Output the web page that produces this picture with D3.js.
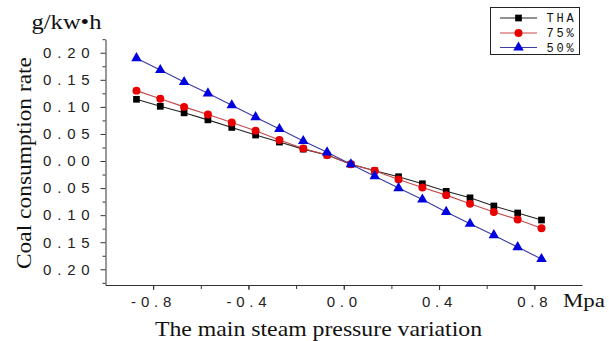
<!DOCTYPE html>
<html>
<head>
<meta charset="utf-8">
<script src="https://cdn.jsdelivr.net/npm/d3@7"></script>
<style>
  body { margin: 0; background: #fff; }
  svg { display: block; }
</style>
</head>
<body>
<div id="chart"></div>
<script>
// data
const pressure = [-0.87, -0.77, -0.67, -0.57, -0.47, -0.37, -0.27, -0.17, -0.07,
  0.03, 0.13, 0.23, 0.33, 0.43, 0.53, 0.63, 0.73, 0.83];
const tha = [0.114, 0.101, 0.089, 0.076, 0.062, 0.048, 0.035, 0.022, 0.011,
  -0.006, -0.018, -0.029, -0.042, -0.056, -0.068, -0.083, -0.096, -0.109];
const load75 = [0.130, 0.115, 0.100, 0.086, 0.071, 0.056, 0.039, 0.023, 0.011,
  -0.006, -0.018, -0.034, -0.049, -0.063, -0.079, -0.094, -0.108, -0.124];
const load50 = [0.190, 0.168, 0.146, 0.125, 0.103, 0.081, 0.059, 0.037, 0.016,
  -0.006, -0.028, -0.050, -0.071, -0.094, -0.116, -0.137, -0.159, -0.181];
const seriesNames = ["THA", "75%", "50%"];

const xTicks = [-0.8, -0.4, 0.0, 0.4, 0.8];
const xTickLabels = ["-0.8", "-0.4", "0.0", "0.4", "0.8"];
const xMinorTicks = [-0.8, -0.6, -0.4, -0.2, 0.0, 0.2, 0.4, 0.6, 0.8];
const yTicks = [0.20, 0.15, 0.10, 0.05, 0.00, -0.05, -0.10, -0.15, -0.20];
const yTickLabels = ["0.20", "0.15", "0.10", "0.05", "0.00", "0.05", "0.10", "0.15", "0.20"];
const yMinorTicks = [0.225, 0.175, 0.125, 0.075, 0.025, -0.025, -0.075, -0.125, -0.175, -0.225];

let width = 609,
  height = 341;

let xScale = d3.scaleLinear().domain([-1, 1]).range([105.5, 582]);
let yScale = d3.scaleLinear().domain([-0.229, 0.225]).range([285, 39.2]);

let svg = d3.select("#chart")
  .append("svg")
  .attr("width", width)
  .attr("height", height);

// minor ticks
svg.append("g")
  .attr("class", "y-minor")
  .attr("transform", "translate(" + xScale(-1) + ",0)")
  .call(d3.axisLeft(yScale).tickValues(yMinorTicks).tickSize(3).tickFormat(""))
  .call(g => g.select(".domain").remove());

svg.append("g")
  .attr("class", "x-minor")
  .attr("transform", "translate(0," + yScale(-0.229) + ")")
  .call(d3.axisBottom(xScale).tickValues(xMinorTicks).tickSize(4).tickFormat(""))
  .call(g => g.select(".domain").remove());

// y axis
svg.append("g")
  .attr("class", "y-axis")
  .attr("transform", "translate(" + xScale(-1) + ",0)")
  .call(d3.axisLeft(yScale)
    .tickValues(yTicks)
    .tickSizeInner(5)
    .tickSizeOuter(0)
    .tickPadding(5)
    .tickFormat((d, i) => yTickLabels[i]));

// x axis
svg.append("g")
  .attr("class", "x-axis")
  .attr("transform", "translate(0," + yScale(-0.229) + ")")
  .call(d3.axisBottom(xScale)
    .tickValues(xTicks)
    .tickSizeInner(5)
    .tickSizeOuter(0)
    .tickPadding(6)
    .tickFormat((d, i) => xTickLabels[i]));

svg.selectAll(".y-axis path, .x-axis path, .y-axis line, .x-axis line, .y-minor line, .x-minor line")
  .attr("stroke", "#333");

svg.selectAll(".y-axis text")
  .style("font-family", "'Liberation Sans', Arial, sans-serif")
  .style("font-size", "15px")
  .style("letter-spacing", "5.8px")
  .attr("fill", "#222");

svg.selectAll(".x-axis text")
  .style("font-family", "'Liberation Sans', Arial, sans-serif")
  .style("font-size", "15px")
  .style("letter-spacing", "4.8px")
  .attr("fill", "#222");

// series
let series = [
  { name: seriesNames[0], values: tha, line: "#222", fill: "#000", symbol: d3.symbolSquare, size: 45 },
  { name: seriesNames[1], values: load75, line: "#c84848", fill: "#e80000", symbol: d3.symbolCircle, size: 50 },
  { name: seriesNames[2], values: load50, line: "#3a3aa8", fill: "#0000e0", symbol: d3.symbolTriangle, size: 48 }
];

let line = d3.line()
  .x((d, i) => xScale(pressure[i]))
  .y(d => yScale(d));

series.forEach(s => {
  svg.append("path")
    .datum(s.values)
    .attr("d", line)
    .attr("fill", "none")
    .attr("stroke", s.line)
    .attr("stroke-width", 1.1);

  svg.append("g")
    .selectAll("path")
    .data(s.values)
    .enter()
    .append("path")
    .attr("transform", (d, i) => "translate(" + xScale(pressure[i]) + "," + yScale(d) + ")")
    .attr("d", d3.symbol(s.symbol, s.size))
    .attr("fill", s.fill);
});

// units and titles
svg.append("text")
  .text("g/kw\u2022h")
  .attr("x", 31.5)
  .attr("y", 28.5)
  .attr("textLength", 70)
  .attr("lengthAdjust", "spacingAndGlyphs")
  .style("font-family", "'Liberation Serif', 'Times New Roman', serif")
  .style("font-size", "20px")
  .attr("fill", "#111");

svg.append("text")
  .text("Coal consumption rate")
  .attr("transform", "translate(31,163) rotate(-90)")
  .attr("text-anchor", "middle")
  .attr("textLength", 212)
  .attr("lengthAdjust", "spacingAndGlyphs")
  .style("font-family", "'Liberation Serif', 'Times New Roman', serif")
  .style("font-size", "21px")
  .attr("fill", "#111");

svg.append("text")
  .text("Mpa")
  .attr("x", 563)
  .attr("y", 306.5)
  .attr("textLength", 42)
  .attr("lengthAdjust", "spacingAndGlyphs")
  .style("font-family", "'Liberation Serif', 'Times New Roman', serif")
  .style("font-size", "18px")
  .attr("fill", "#111");

svg.append("text")
  .text("The main steam pressure variation")
  .attr("x", 155)
  .attr("y", 336)
  .attr("textLength", 327)
  .attr("lengthAdjust", "spacingAndGlyphs")
  .style("font-family", "'Liberation Serif', 'Times New Roman', serif")
  .style("font-size", "21px")
  .attr("fill", "#111");

// legend
let legend = svg.append("g").attr("class", "legend");

legend.append("rect")
  .attr("x", 490.5)
  .attr("y", 7.5)
  .attr("width", 89)
  .attr("height", 47)
  .attr("fill", "#fff")
  .attr("stroke", "#222");

let legendRows = [18, 33, 47.5];

series.forEach((s, i) => {
  legend.append("line")
    .attr("x1", 500)
    .attr("x2", 537)
    .attr("y1", legendRows[i])
    .attr("y2", legendRows[i])
    .attr("stroke", s.line)
    .attr("stroke-width", 1.1);

  legend.append("path")
    .attr("transform", "translate(518.5," + legendRows[i] + ")")
    .attr("d", d3.symbol(s.symbol, s.size))
    .attr("fill", s.fill);

  legend.append("text")
    .text(s.name)
    .attr("x", 546.5)
    .attr("y", legendRows[i])
    .attr("dy", "0.36em")
    .style("font-family", "'Liberation Mono', 'Courier New', monospace")
    .style("font-size", "12px")
    .style("letter-spacing", "2.8px")
    .attr("fill", "#111");
});
</script>
</body>
</html>
